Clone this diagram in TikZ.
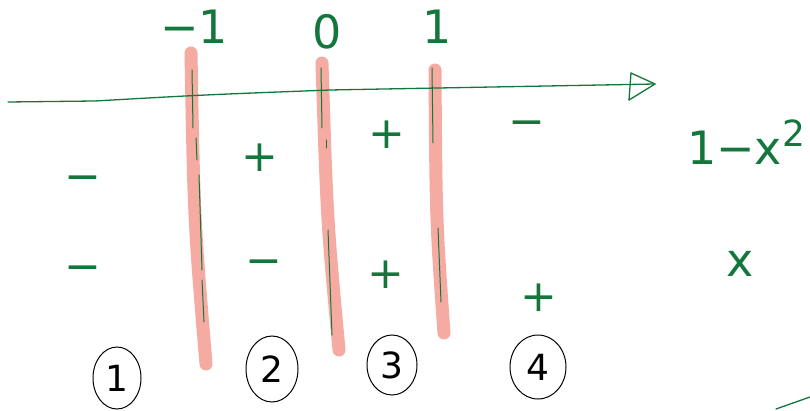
\documentclass[tikz,border=0pt]{standalone}
\usepackage{fontspec}
\setmainfont{DejaVu Sans}
\usetikzlibrary{shapes.geometric}
\definecolor{ink}{HTML}{13773D}
\definecolor{marker}{HTML}{F5ABA1}
\tikzset{
  pen/.style={draw=ink, line width=1.3pt, line cap=round, line join=round},
  hilite/.style={draw=marker, line width=13pt, line cap=round},
  sign/.style={text=ink, font=\fontsize{44}{44}\selectfont, inner sep=0pt},
  lbl/.style={text=ink, font=\fontsize{46}{46}\selectfont, inner sep=0pt},
  biglbl/.style={text=ink, font=\fontsize{46}{46}\selectfont, inner sep=0pt},
  circnum/.style={ellipse, draw=black, line width=1pt, minimum width=48pt, minimum height=62pt, inner sep=0pt, font=\fontsize{36}{36}\selectfont},
}
\begin{document}
\begin{tikzpicture}[x=1pt, y=-1pt]
\useasboundingbox (0,0) rectangle (810,411);
% pink highlight lines
\draw[hilite] (191,53) .. controls (194,220) .. (206,364);
\draw[hilite] (322,63) .. controls (327,220) .. (339,350);
\draw[hilite] (435,70) .. controls (436,220) .. (444,333);
% axis
\coordinate (a0) at (8,102);
\coordinate (tip) at (655,84);
\draw[pen] (a0) -- (95,101) .. controls (200,95) .. (330,90) -- (tip);
\draw[pen] (631,73) -- (tip) -- (629,100);
\draw[pen] (631,73) -- (629,100);
% green ticks on highlights
\draw[pen, line width=1pt] (192,70) -- (193,128);
\draw[pen, line width=1pt] (196,138) -- (197,160);
\draw[pen, line width=1pt] (199,175) -- (202,270);
\draw[pen, line width=1pt] (202,280) -- (204,322);
\draw[pen, line width=1pt] (321,68) -- (322,128);
\draw[pen, line width=1pt] (326,140) -- (326,148);
\draw[pen, line width=1pt] (328,230) -- (332,335);
\draw[pen, line width=1pt] (432,68) -- (433,143);
\draw[pen, line width=1pt] (438,228) -- (441,302);
% top labels
\node[lbl] (m1) at (194,27) {−1};
\node[lbl] (z0) at (327,32) {0};
\node[lbl] (p1) at (437,27) {1};
% row 1 signs
\node[sign] (s11) at (83,184) {−};
\node[sign] (s12) at (260,158) {+};
\node[sign] (s13) at (387,135) {+};
\node[sign] (s14) at (527,129) {−};
\node[biglbl] (f1) at (746,142) {1−x\raisebox{0.4em}{\fontsize{36}{36}\selectfont 2}};
% row 2 signs
\node[sign] (s21) at (83,274) {−};
\node[sign] (s22) at (264,268) {−};
\node[sign] (s23) at (386,275) {+};
\node[sign] (s24) at (539,298) {+};
\node[biglbl] (f2) at (740,264) {x};
% circled region numbers
\node[circnum] (r1) at (117,378) {1};
\node[circnum, minimum width=52pt, minimum height=66pt] (r2) at (272,369) {2};
\node[circnum, minimum width=50pt, minimum height=60pt] (r3) at (392,365) {3};
\node[circnum, minimum width=56pt, minimum height=64pt] (r4) at (538,367) {4};
% stray stroke bottom right
\coordinate (st1) at (776,409);
\coordinate (st2) at (810,397);
\draw[pen] (st1) -- (st2);
\end{tikzpicture}
\end{document}
